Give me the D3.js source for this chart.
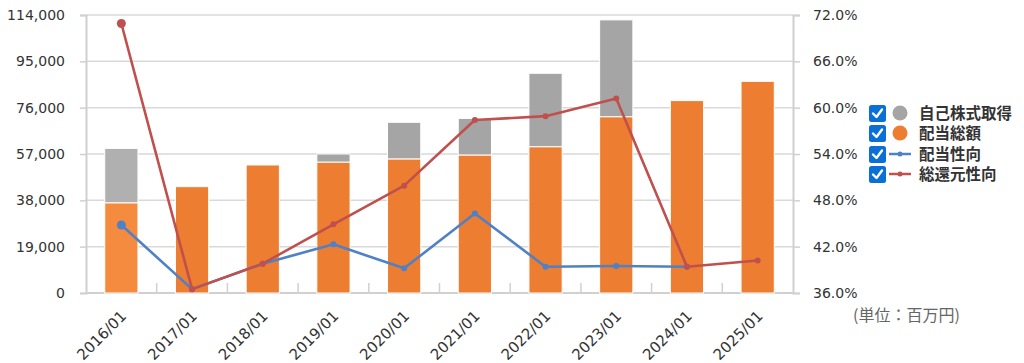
<!DOCTYPE html>
<html>
<head>
<meta charset="utf-8">
<script src="https://cdn.jsdelivr.net/npm/d3@7"></script>
<style>
  body { margin: 0; background: #fff; }
  svg { display: block; font-family: "DejaVu Sans", Verdana, sans-serif; }
</style>
</head>
<body>
<svg id="chart"></svg>
<script>
// Data (units: million yen, percent)
const years = ['2016/01', '2017/01', '2018/01', '2019/01', '2020/01',
               '2021/01', '2022/01', '2023/01', '2024/01', '2025/01'];
const dividends = [37000, 43600, 52500, 53700, 55000, 56600, 60000, 72300, 78900, 86800];
const buybacks  = [22300, 0, 0, 3300, 15000, 15000, 30100, 39700, 0, 0];
const payoutRatio = [44.8, 36.5, 39.8, 42.3, 39.2, 46.3, 39.4, 39.5, 39.4, null];
const totalReturnRatio = [70.9, 36.5, 39.8, 44.9, 49.9, 58.4, 58.9, 61.2, 39.4, 40.2];
const leftTicks = [0, 19000, 38000, 57000, 76000, 95000, 114000];
const rightTicks = [36, 42, 48, 54, 60, 66, 72];
const legendItems = [
  {label: '自己株式取得', type: 'dot', color: '#a5a5a5'},
  {label: '配当総額', type: 'dot', color: '#ed7d31'},
  {label: '配当性向', type: 'line', color: '#4f81c6'},
  {label: '総還元性向', type: 'line', color: '#c0504d'}
];
const highlightIndex = 0;

class ReturnChart {
  constructor(_config) {
    this.config = {
      parentElement: _config.parentElement,
      containerWidth: 1024,
      containerHeight: 363,
      margin: {top: 15, right: 231, bottom: 70, left: 86}
    };
    this.initVis();
  }

  initVis() {
    let vis = this;
    const m = vis.config.margin;
    vis.width = vis.config.containerWidth - m.left - m.right;
    vis.height = vis.config.containerHeight - m.top - m.bottom;

    vis.svg = d3.select(vis.config.parentElement)
        .attr('width', vis.config.containerWidth)
        .attr('height', vis.config.containerHeight);

    vis.chart = vis.svg.append('g')
        .attr('transform', `translate(${m.left},${m.top})`);

    vis.x = d3.scaleBand().domain(years).range([0, vis.width]).paddingInner(0).paddingOuter(0);
    vis.yLeft = d3.scaleLinear().domain([0, 114000]).range([vis.height, 0]);
    vis.yRight = d3.scaleLinear().domain([36, 72]).range([vis.height, 0]);

    // gridlines
    vis.chart.append('g')
      .selectAll('line').data(leftTicks.slice(1)).join('line')
        .attr('x1', 0).attr('x2', vis.width)
        .attr('y1', d => vis.yLeft(d)).attr('y2', d => vis.yLeft(d))
        .attr('stroke', '#d9d9d9').attr('stroke-width', 1.5);

    // left axis
    const leftAxis = d3.axisLeft(vis.yLeft).tickValues(leftTicks)
        .tickFormat(d3.format(',')).tickSize(6).tickPadding(15);
    vis.leftAxisG = vis.chart.append('g').call(leftAxis);

    // right axis
    const rightAxis = d3.axisRight(vis.yRight).tickValues(rightTicks)
        .tickFormat(d => d.toFixed(1) + '%').tickSize(7).tickPadding(13);
    vis.rightAxisG = vis.chart.append('g')
        .attr('transform', `translate(${vis.width},0)`).call(rightAxis);

    [vis.leftAxisG, vis.rightAxisG].forEach(g => {
      g.select('.domain').attr('stroke', '#d0d0d0').attr('stroke-width', 2);
      g.selectAll('.tick line').attr('stroke', '#d0d0d0').attr('stroke-width', 1.5);
      g.selectAll('.tick text').attr('fill', '#333').attr('font-size', 14)
        .attr('font-family', '"DejaVu Sans", Verdana, sans-serif');
    });

    // bottom axis line and inner ticks at band boundaries
    vis.chart.append('line')
        .attr('x1', 0).attr('x2', vis.width)
        .attr('y1', vis.height).attr('y2', vis.height)
        .attr('stroke', '#d0d0d0').attr('stroke-width', 2);
    vis.chart.append('g')
      .selectAll('line').data(years.slice(1)).join('line')
        .attr('x1', d => vis.x(d)).attr('x2', d => vis.x(d))
        .attr('y1', vis.height).attr('y2', vis.height - 10)
        .attr('stroke', '#d0d0d0').attr('stroke-width', 1.5);

    vis.chart.append('g')
      .selectAll('text').data(years).join('text')
        .attr('transform', d => `translate(${vis.x(d) + vis.x.bandwidth() / 2 + 6},${vis.height + 24}) rotate(-45)`)
        .attr('text-anchor', 'end')
        .attr('font-size', 15)
        .attr('fill', '#333')
        .text(d => d);

    // unit label
    vis.svg.append('text')
        .attr('x', 853).attr('y', 321)
        .attr('font-size', 16)
        .attr('fill', '#666')
        .attr('font-family', '"Noto Sans CJK JP", sans-serif')
        .text('(単位：百万円)');

    vis.updateVis();
  }

  updateVis() {
    let vis = this;
    vis.data = years.map((y, i) => ({
      year: y, i,
      dividend: dividends[i],
      buyback: buybacks[i],
      payout: payoutRatio[i],
      total: totalReturnRatio[i]
    }));
    vis.renderVis();
  }

  renderVis() {
    let vis = this;
    const bw = vis.x.bandwidth() * 0.47;
    const cx = d => vis.x(d.year) + vis.x.bandwidth() / 2;

    const bars = vis.chart.append('g');
    bars.selectAll('.div').data(vis.data).join('rect')
        .attr('class', 'div')
        .attr('x', d => cx(d) - bw / 2)
        .attr('width', bw)
        .attr('y', d => vis.yLeft(d.dividend))
        .attr('height', d => vis.yLeft(0) - vis.yLeft(d.dividend))
        .attr('fill', d => d.i === highlightIndex ? '#f58b3f' : '#ed7d31')
        .attr('stroke', '#fff').attr('stroke-width', 1);
    bars.selectAll('.buy').data(vis.data.filter(d => d.buyback > 0)).join('rect')
        .attr('class', 'buy')
        .attr('x', d => cx(d) - bw / 2)
        .attr('width', bw)
        .attr('y', d => vis.yLeft(d.dividend + d.buyback))
        .attr('height', d => vis.yLeft(d.dividend) - vis.yLeft(d.dividend + d.buyback))
        .attr('fill', d => d.i === highlightIndex ? '#b0b0b0' : '#a5a5a5')
        .attr('stroke', '#fff').attr('stroke-width', 1);

    const series = [
      {key: 'payout', color: '#4f81c6'},
      {key: 'total', color: '#c0504d'}
    ];
    series.forEach(s => {
      const line = d3.line()
          .x(cx)
          .y(d => vis.yRight(d[s.key]));
      const pts = vis.data.filter(d => d[s.key] != null);
      vis.chart.append('path').datum(pts)
          .attr('d', line)
          .attr('fill', 'none')
          .attr('stroke', s.color)
          .attr('stroke-width', 2.6)
          .attr('stroke-linejoin', 'round');
      vis.chart.append('g').selectAll('circle').data(pts).join('circle')
          .attr('cx', cx)
          .attr('cy', d => vis.yRight(d[s.key]))
          .attr('r', d => d.i === highlightIndex ? 4.5 : 3)
          .attr('fill', s.color);
    });

    // legend
    const legend = vis.svg.append('g').attr('transform', 'translate(869,113)');
    const rowY = [0, 20, 41, 61];
    const item = legend.selectAll('g').data(legendItems).join('g')
        .attr('transform', (d, i) => `translate(0,${rowY[i]})`);
    item.append('rect')
        .attr('x', 0).attr('y', -8).attr('width', 17).attr('height', 17).attr('rx', 2.5)
        .attr('fill', '#0b6fd8');
    item.append('path')
        .attr('d', 'M4,0.5 L7.5,4 L13,-3.5')
        .attr('fill', 'none').attr('stroke', '#fff').attr('stroke-width', 2.4)
        .attr('stroke-linecap', 'round').attr('stroke-linejoin', 'round');
    item.filter(d => d.type === 'dot').append('circle')
        .attr('cx', 31).attr('cy', 0).attr('r', 7.5).attr('fill', d => d.color);
    item.filter(d => d.type === 'line').append('line')
        .attr('x1', 20).attr('x2', 42).attr('y1', 0).attr('y2', 0)
        .attr('stroke', d => d.color).attr('stroke-width', 2.5);
    item.filter(d => d.type === 'line').append('circle')
        .attr('cx', 31).attr('cy', 0).attr('r', 2.5).attr('fill', d => d.color);
    item.append('text')
        .attr('x', 50).attr('y', 0).attr('dy', '0.36em')
        .attr('font-size', 15.5).attr('font-weight', 'bold').attr('fill', '#333')
        .attr('font-family', '"Noto Sans CJK JP", sans-serif')
        .text(d => d.label);
  }
}

new ReturnChart({parentElement: '#chart'});
</script>
</body>
</html>
